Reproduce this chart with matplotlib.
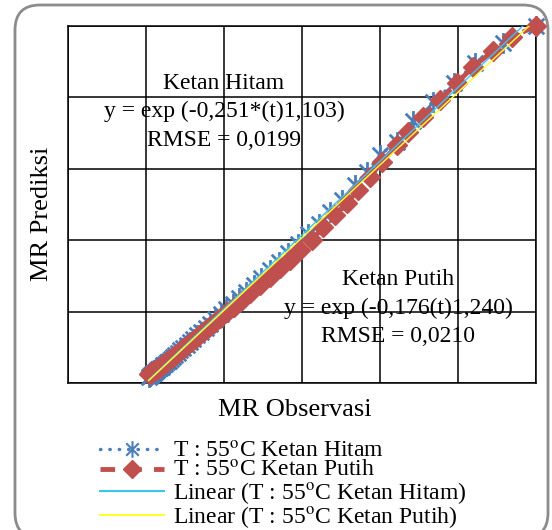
import numpy as np
import matplotlib
matplotlib.use("Agg")
import matplotlib.pyplot as plt
from matplotlib.path import Path
from matplotlib.patches import FancyBboxPatch
from matplotlib.lines import Line2D

obs_hitam = [1.000, 0.915, 0.844, 0.790, 0.735, 0.684, 0.644, 0.600, 0.567, 0.536,
             0.503, 0.472, 0.444, 0.416, 0.390, 0.365, 0.341, 0.318, 0.296, 0.276,
             0.257, 0.239, 0.222, 0.206, 0.192, 0.178, 0.165, 0.153, 0.142, 0.131,
             0.121, 0.112, 0.104, 0.096, 0.088, 0.081, 0.075, 0.069, 0.063, 0.058,
             0.053, 0.048, 0.044, 0.040, 0.036, 0.032, 0.029, 0.026, 0.023, 0.020,
             0.018, 0.015, 0.013, 0.011, 0.009, 0.007]
pred_hitam = [1.000, 0.952, 0.896, 0.840, 0.787, 0.735, 0.675, 0.639, 0.591, 0.555,
              0.513, 0.478, 0.446, 0.416, 0.389, 0.363, 0.339, 0.316, 0.294, 0.274,
              0.255, 0.238, 0.221, 0.206, 0.192, 0.179, 0.166, 0.155, 0.144, 0.134,
              0.124, 0.115, 0.107, 0.099, 0.092, 0.085, 0.079, 0.073, 0.068, 0.063,
              0.058, 0.054, 0.050, 0.046, 0.043, 0.040, 0.037, 0.034, 0.031, 0.029,
              0.027, 0.025, 0.023, 0.021, 0.019, 0.017]

obs_putih = [1.000, 0.938, 0.890, 0.838, 0.797, 0.754, 0.710, 0.672, 0.644, 0.605,
             0.574, 0.544, 0.515, 0.484, 0.454, 0.426, 0.395, 0.369, 0.344, 0.318,
             0.292, 0.267, 0.245, 0.225, 0.207, 0.190, 0.175, 0.161, 0.148, 0.136,
             0.125, 0.115, 0.106, 0.097, 0.089, 0.082, 0.075, 0.069, 0.063, 0.058,
             0.053, 0.048, 0.044, 0.040, 0.036, 0.033, 0.030, 0.027, 0.024, 0.021,
             0.018, 0.016, 0.013, 0.011, 0.009, 0.007]
pred_putih = [1.000, 0.969, 0.930, 0.885, 0.840, 0.793, 0.745, 0.703, 0.667, 0.619,
              0.577, 0.541, 0.504, 0.470, 0.437, 0.401, 0.373, 0.345, 0.322, 0.297,
              0.275, 0.252, 0.232, 0.214, 0.198, 0.183, 0.169, 0.157, 0.145, 0.134,
              0.124, 0.115, 0.107, 0.099, 0.092, 0.085, 0.079, 0.074, 0.069, 0.064,
              0.060, 0.056, 0.052, 0.049, 0.046, 0.043, 0.040, 0.038, 0.036, 0.034,
              0.032, 0.030, 0.028, 0.027, 0.026, 0.025]

plt.rcParams['font.family'] = ['Liberation Serif', 'DejaVu Serif']
plt.rcParams['mathtext.fontset'] = 'stix'

BLUE = "#4a7ebb"
RED = "#c0504d"
CYAN = "#3cc4f0"
YELLOW = "#ffff33"

# asterisk marker: X plus a vertical bar
aster = Path([(0, -1), (0, 1), (-0.75, -0.75), (0.75, 0.75), (-0.75, 0.75), (0.75, -0.75)],
             [Path.MOVETO, Path.LINETO, Path.MOVETO, Path.LINETO, Path.MOVETO, Path.LINETO])

fig = plt.figure(figsize=(5.52, 5.30), dpi=100)
ax = fig.add_axes([68 / 552, 1 - 383 / 530, 468 / 552, 357 / 530])

ax.plot(obs_hitam, pred_hitam, color=BLUE, lw=2.5, dashes=(0.1, 2.6),
        dash_capstyle='round', marker=aster, ms=15, mew=2, mec=BLUE,
        clip_on=False, zorder=3)
ax.plot(obs_putih, pred_putih, color=RED, lw=3.5, dashes=(3, 2.5),
        marker='D', ms=10, mfc=RED, mec=RED, clip_on=False, zorder=4)

# linear trend lines
for xs, ys, c in [(obs_hitam, pred_hitam, CYAN), (obs_putih, pred_putih, YELLOW)]:
    k, b = np.polyfit(xs, ys, 1)
    xx = np.array([min(xs), max(xs)])
    ax.plot(xx, k * xx + b, color=c, lw=1, zorder=5)

ax.set_xlim(-0.2, 1.0)
ax.set_ylim(0, 1.0)
ax.set_xticks(np.arange(-0.2, 1.01, 0.2))
ax.set_yticks(np.arange(0, 1.01, 0.2))
ax.tick_params(length=0, labelbottom=False, labelleft=False)
ax.grid(True, color='black', lw=1.1)
for s in ax.spines.values():
    s.set_color('black')
    s.set_linewidth(1.1)

fig.text(42 / 552, 1 - 214 / 530, "MR Prediksi", rotation=90, fontsize=19,
         ha='center', va='center')
fig.text(295 / 552, 1 - 410 / 530, "MR Observasi", fontsize=19, ha='center', va='center')

fs = 17
ax.text(0.20, 0.84, "Ketan Hitam", fontsize=fs, ha='center', va='center')
ax.text(0.20, 0.76, "y = exp (-0,251*(t)1,103)", fontsize=fs, ha='center', va='center')
ax.text(0.20, 0.68, "RMSE = 0,0199", fontsize=fs, ha='center', va='center')
ax.text(0.646, 0.29, "Ketan Putih", fontsize=fs, ha='center', va='center')
ax.text(0.646, 0.21, "y = exp (-0,176(t)1,240)", fontsize=fs, ha='center', va='center')
ax.text(0.646, 0.13, "RMSE = 0,0210", fontsize=fs, ha='center', va='center')

handles = [
    Line2D([], [], color=BLUE, lw=2.5, dashes=(0.1, 2.6), dash_capstyle='round',
           marker=aster, ms=12, mew=1.5, mec=BLUE),
    Line2D([], [], color=RED, lw=3.5, dashes=(3, 2.5), marker='D', ms=9, mfc=RED, mec=RED),
    Line2D([], [], color=CYAN, lw=1.5),
    Line2D([], [], color=YELLOW, lw=1.5),
]
labels = [r"T : 55$^{\mathrm{o}}$C Ketan Hitam",
          r"T : 55$^{\mathrm{o}}$C Ketan Putih",
          r"Linear (T : 55$^{\mathrm{o}}$C Ketan Hitam)",
          r"Linear (T : 55$^{\mathrm{o}}$C Ketan Putih)"]
fig.legend(handles, labels, loc='upper left', bbox_to_anchor=(100 / 552, 1 - 441 / 530),
           frameon=False, fontsize=17, handlelength=2.7, handletextpad=0.4,
           labelspacing=-0.08, numpoints=1, borderaxespad=0, borderpad=0)

# rounded outer frame
frame = FancyBboxPatch((0.15, -0.08), 5.33, 5.33, boxstyle="round,pad=0,rounding_size=0.25",
                       transform=fig.dpi_scale_trans, fill=False, ec="#8c8c8c", lw=2,
                       zorder=-1)
fig.patches.append(frame)

fig.savefig("out.png", dpi=100)
